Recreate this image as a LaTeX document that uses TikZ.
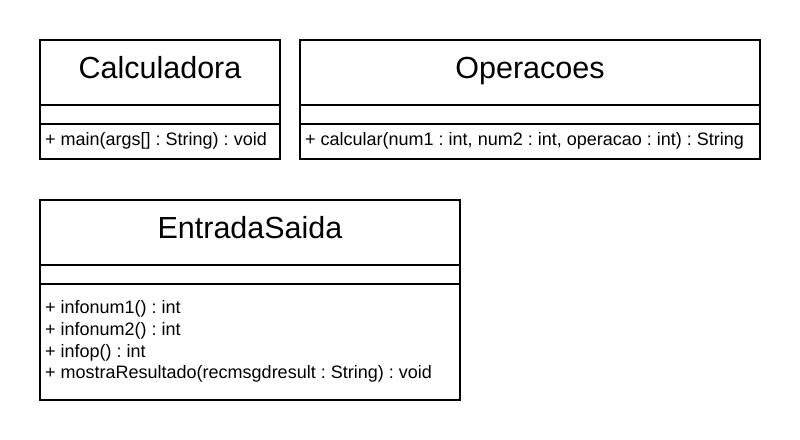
\documentclass[tikz,border=0pt]{standalone}
\usepackage{fontspec}
\setmainfont{Liberation Sans}
\frenchspacing
\begin{document}
\begin{tikzpicture}[x=1bp,y=-1bp,
  box/.style={draw=black,line width=1.5bp},
  sep/.style={draw=black,line width=1.5bp},
  title/.style={inner sep=0pt,anchor=base,font=\fontsize{30.5bp}{36bp}\selectfont},
  member/.style={inner sep=0pt,anchor=base west,font=\fontsize{18bp}{21.6bp}\selectfont}]
\useasboundingbox (0,0) rectangle (800,440);
% Calculadora
\draw[box] (40,40) rectangle (280,159);
\draw[sep] (40,105) -- (280,105);
\draw[sep] (40,124) -- (280,124);
\node[title] (calcT) at (160,79) {Calculadora};
\node[member] (calcM) at (45,146) {\frenchspacing + main(args[] : String) : void};
% Operacoes
\draw[box] (300,40) rectangle (760,159);
\draw[sep] (300,105) -- (760,105);
\draw[sep] (300,124) -- (760,124);
\node[title] (opT) at (530,79) {Operacoes};
\node[member] (opM) at (305,146) {\frenchspacing + calcular(num1 : int, num2 : int, operacao : int) : String};
% EntradaSaida
\draw[box] (40,200) rectangle (460,400);
\draw[sep] (40,265) -- (460,265);
\draw[sep] (40,284) -- (460,284);
\node[title] (esT) at (250,239) {EntradaSaida};
\node[member] (es1) at (45,314) {\frenchspacing + infonum1() : int};
\node[member] (es2) at (45,335.6) {\frenchspacing + infonum2() : int};
\node[member] (es3) at (45,357.2) {\frenchspacing + infop() : int};
\node[member] (es4) at (45,378.8) {\frenchspacing + mostraResultado(recmsgdresult : String) : void};
\end{tikzpicture}
\end{document}
